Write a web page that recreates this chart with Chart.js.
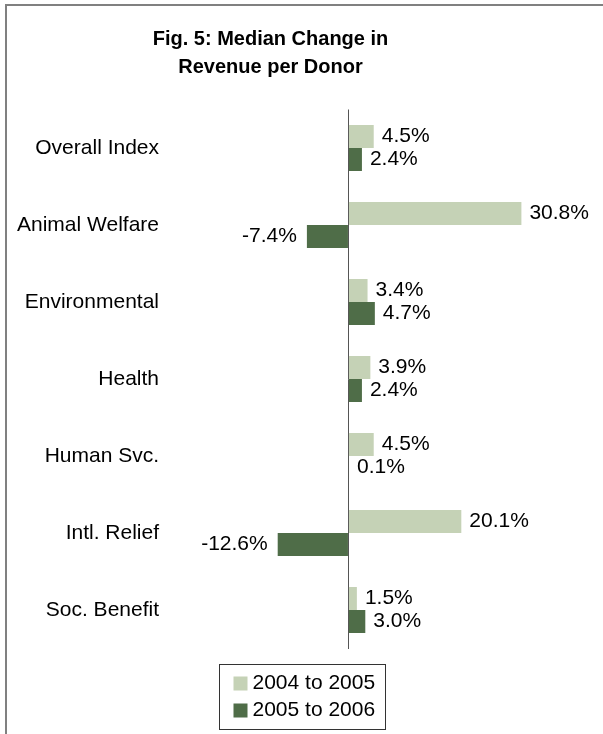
<!DOCTYPE html>
<html>
<head>
<meta charset="utf-8">
<script src="https://cdn.jsdelivr.net/npm/chart.js@4/dist/chart.umd.min.js"></script>
<style>
  html, body { margin: 0; padding: 0; background: #fff; }
  #wrap { position: relative; width: 603px; height: 734px; overflow: hidden; }
  #frame { position: absolute; left: 5px; top: 4px; width: 700px; height: 800px;
           border-top: 2px solid #808080; border-left: 2px solid #808080; pointer-events: none; }
  canvas { position: absolute; left: 0; top: 0; }
</style>
</head>
<body>
<div id="wrap">
  <canvas id="donor" width="603" height="734"></canvas>
  <div id="frame"></div>
</div>
<script>
  const categories = ['Overall Index', 'Animal Welfare', 'Environmental', 'Health', 'Human Svc.', 'Intl. Relief', 'Soc. Benefit'];
  const seriesNames = ['2004 to 2005', '2005 to 2006'];
  const change0405 = [4.5, 30.8, 3.4, 3.9, 4.5, 20.1, 1.5];
  const change0506 = [2.4, -7.4, 4.7, 2.4, 0.1, -12.6, 3.0];
  const titleLines = ['Fig. 5: Median Change in', 'Revenue per Donor'];

  const lightGreen = '#c5d2b6';
  const darkGreen = '#4f6d48';
  const fontFamily = '"Liberation Sans", Arial, sans-serif';

  //============= labels at the end of every bar ==============
  const valueLabels = {
    id: 'valueLabels',
    afterDatasetsDraw(chart) {
      const ctx = chart.ctx;
      ctx.save();
      ctx.font = '21px ' + fontFamily;
      ctx.fillStyle = '#000';
      ctx.textBaseline = 'middle';
      chart.data.datasets.forEach((ds, i) => {
        chart.getDatasetMeta(i).data.forEach((bar, j) => {
          const v = ds.data[j];
          const txt = v.toFixed(1) + '%';
          if (v < 0) {
            ctx.textAlign = 'right';
            ctx.fillText(txt, bar.x - 10, bar.y);
          } else {
            ctx.textAlign = 'left';
            ctx.fillText(txt, bar.x + 8, bar.y);
          }
        });
      });
      ctx.restore();
    }
  };

  //============= boxed legend under the plot ==============
  const boxLegend = {
    id: 'boxLegend',
    afterDraw(chart) {
      const ctx = chart.ctx;
      const w = 166, h = 65, rowH = 27;
      const left = Math.round(chart.width / 2 - w / 2) + 0.5;
      const top = Math.round(chart.chartArea.bottom + 15) + 0.5;
      ctx.save();
      ctx.strokeStyle = '#333';
      ctx.lineWidth = 1;
      ctx.strokeRect(left, top, w, h);
      ctx.font = '21px ' + fontFamily;
      ctx.textBaseline = 'middle';
      ctx.textAlign = 'left';
      chart.data.datasets.forEach((ds, i) => {
        const cy = top + 19 + i * rowH;
        ctx.fillStyle = ds.backgroundColor;
        ctx.fillRect(left + 14, cy - 7, 14, 14);
        ctx.fillStyle = '#000';
        ctx.fillText(ds.label, left + 33, cy);
      });
      ctx.restore();
    }
  };

  const graph = document.getElementById('donor');

  const myChart = new Chart(graph, {
    type: 'bar',
    data: {
      labels: categories,
      datasets: [{
        label: seriesNames[0],
        data: change0405,
        backgroundColor: lightGreen,
        categoryPercentage: 0.6,
        barPercentage: 1
      }, {
        label: seriesNames[1],
        data: change0506,
        backgroundColor: darkGreen,
        categoryPercentage: 0.6,
        barPercentage: 1
      }]
    },
    options: {
      indexAxis: 'y',
      responsive: false,
      animation: false,
      layout: { padding: { left: 5, right: 67, top: 0, bottom: 85.5 } },
      plugins: {
        legend: { display: false },
        tooltip: { enabled: false },
        title: {
          display: true,
          text: titleLines,
          color: '#000',
          font: { family: fontFamily, size: 20, weight: 'bold', lineHeight: 1.4 },
          padding: { top: 25, bottom: 28.5 }
        }
      },
      scales: {
        x: {
          min: -30,
          max: 33.4,
          ticks: { display: false, stepSize: 10 },
          border: { display: false },
          grid: {
            drawTicks: false,
            lineWidth: 1,
            color: (c) => (c.tick && c.tick.value === 0) ? '#555' : 'rgba(0,0,0,0)'
          }
        },
        y: {
          afterFit(scale) { scale.width = 175; },
          border: { display: false },
          grid: { display: false, drawTicks: false },
          ticks: {
            padding: 21,
            color: '#000',
            font: { family: fontFamily, size: 21 }
          }
        }
      }
    },
    plugins: [valueLabels, boxLegend]
  });
</script>
</body>
</html>
